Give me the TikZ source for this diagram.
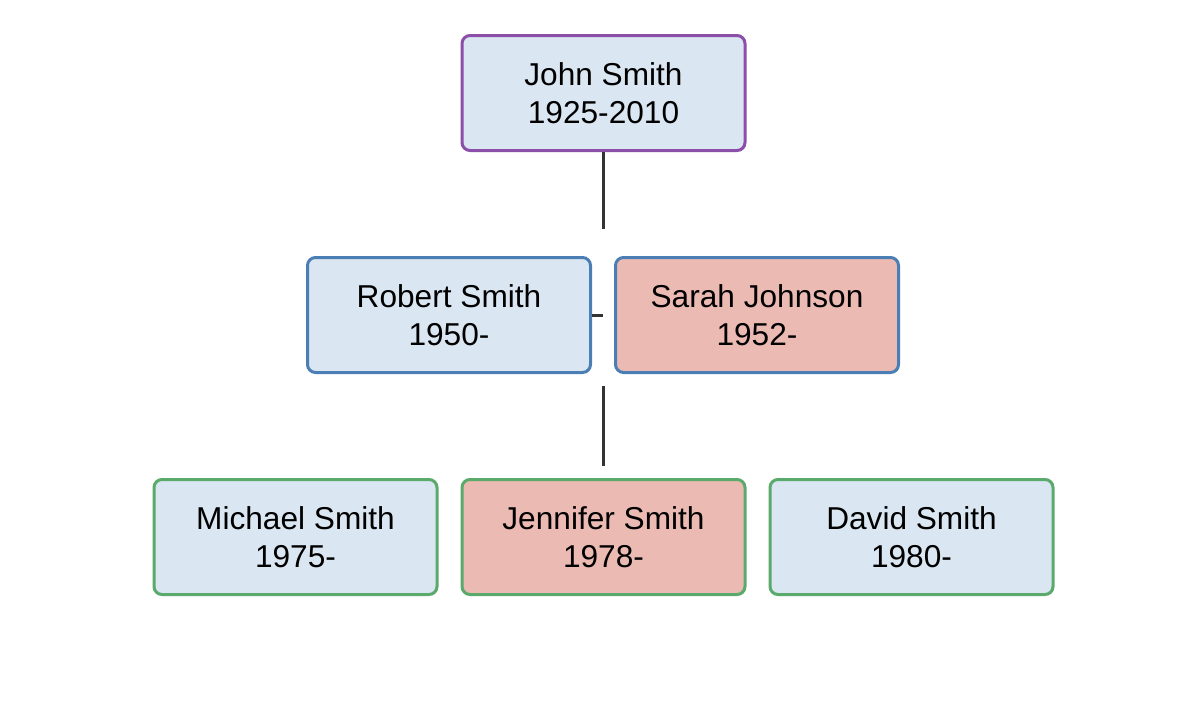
\documentclass[tikz,border=0pt]{standalone}
\usepackage{fontspec}
\setmainfont{Liberation Sans}
\usepackage{tikz}
\usetikzlibrary{positioning}
\definecolor{boxblue}{HTML}{DAE6F1}
\definecolor{boxpink}{HTML}{EBBAB2}
\definecolor{edgepurple}{HTML}{8B4FA9}
\definecolor{edgeblue}{HTML}{4A7EB4}
\definecolor{edgegreen}{HTML}{5AAA6B}
\definecolor{linegray}{HTML}{333333}
\tikzstyle{person} = [rectangle, rounded corners=0.16cm, draw, line width=0.06cm, minimum width=5.66cm, minimum height=2.30cm, align=center, text=black, font=\fontsize{18}{21.5}\selectfont]
\tikzstyle{link} = [line width=0.06cm, draw=linegray]

\begin{document}
\begin{tikzpicture}

\useasboundingbox (0,0) rectangle (24,-14);

\node[person, fill=boxblue, draw=edgepurple] (john) at (12.07,-1.86) {John Smith\\ 1925-2010};

\node[person, fill=boxblue, draw=edgeblue] (robert) at (8.98,-6.30) {Robert Smith\\ 1950-};
\node[person, fill=boxpink, draw=edgeblue, right=0.44cm of robert] (sarah) {Sarah Johnson\\ 1952-};

\node[person, fill=boxpink, draw=edgegreen] (jennifer) at (12.07,-10.74) {Jennifer Smith\\ 1978-};
\node[person, fill=boxblue, draw=edgegreen, left=0.44cm of jennifer] (michael) {Michael Smith\\ 1975-};
\node[person, fill=boxblue, draw=edgegreen, right=0.44cm of jennifer] (david) {David Smith\\ 1980-};

% connectors
\coordinate (drop) at (12.07,-4.58);
\path (robert.east) -- (sarah.west) coordinate[pos=0.5] (knot);
\coordinate (kidtop) at (12.07,-7.72);
\coordinate (kidend) at (12.07,-9.32);

\draw[link] (john.south) -- (drop);
\draw[link] (robert.east) -- (knot);
\draw[link] (kidtop) -- (kidend);

\end{tikzpicture}
\end{document}
